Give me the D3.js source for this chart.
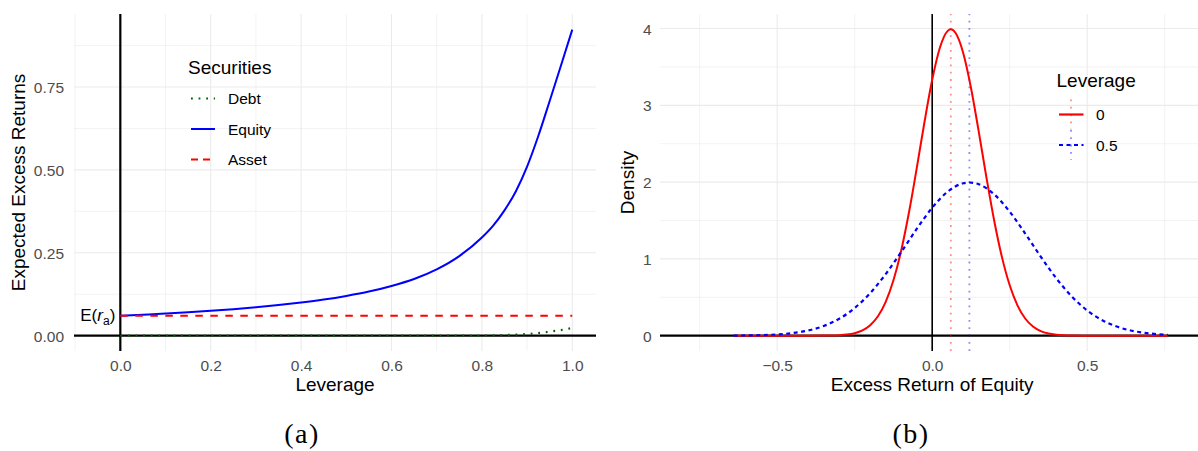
<!DOCTYPE html>
<html>
<head>
<meta charset="utf-8">
<script src="https://cdn.jsdelivr.net/npm/d3@7"></script>
<style>
  html, body { margin: 0; padding: 0; background: #fff; }
  svg { display: block; font-family: "Liberation Sans", Arial, Helvetica, sans-serif; }
</style>
</head>
<body>
<svg id="chart" width="1198" height="451"></svg>
<script>
// ---------- Panel (a): expected excess returns against leverage ----------
const leverage = [0, 0.05, 0.1, 0.15, 0.2, 0.25, 0.3, 0.35, 0.4, 0.45, 0.5, 0.55, 0.6,
                  0.65, 0.7, 0.75, 0.8, 0.825, 0.85, 0.875, 0.9, 0.925, 0.95, 0.975, 1.0];
const debtReturn = [0, 0, 0, 0, 0, 0, 0, 0, 0, 0, 0, 0, 0,
                    0, 0, 0, 0.0005, 0.001, 0.002, 0.003, 0.005, 0.008, 0.012, 0.017, 0.023];
const equityReturn = [0.060, 0.0632, 0.0667, 0.0706, 0.075, 0.080, 0.0857, 0.0923, 0.100, 0.109,
                      0.120, 0.133, 0.150, 0.171, 0.200, 0.240, 0.296, 0.332, 0.378, 0.435,
                      0.510, 0.603, 0.708, 0.815, 0.923];
const assetReturn = [0.06, 0.06, 0.06, 0.06, 0.06, 0.06, 0.06, 0.06, 0.06, 0.06, 0.06, 0.06, 0.06,
                     0.06, 0.06, 0.06, 0.06, 0.06, 0.06, 0.06, 0.06, 0.06, 0.06, 0.06, 0.06];
const securityNames = ["Debt", "Equity", "Asset"];
const xTicksA = [0, 0.2, 0.4, 0.6, 0.8, 1.0];
const xMinorA = [-0.1, 0.1, 0.3, 0.5, 0.7, 0.9];
const yTicksA = [0, 0.25, 0.5, 0.75];
const yMinorA = [0.125, 0.375, 0.625, 0.875];

// ---------- Panel (b): density of equity excess return ----------
const returnsL0 = [-0.64, -0.6, -0.55, -0.5, -0.45, -0.4, -0.35, -0.325, -0.3, -0.275, -0.25, -0.225,
                   -0.2, -0.175, -0.15, -0.125, -0.1, -0.075, -0.05, -0.025, 0, 0.025, 0.05, 0.06,
                   0.075, 0.1, 0.125, 0.15, 0.175, 0.2, 0.225, 0.25, 0.275, 0.3, 0.325, 0.35, 0.375,
                   0.4, 0.425, 0.45, 0.5, 0.55, 0.6, 0.65, 0.7, 0.76];
const densityL0 = [0, 0, 0, 0, 0, 0.0001, 0.0009, 0.0024, 0.0061, 0.0146, 0.0327, 0.0687,
                   0.1358, 0.2522, 0.4400, 0.7209, 1.1092, 1.6038, 2.1785, 2.7798, 3.3322, 3.7524, 3.9695, 3.9894,
                   3.9448, 3.6827, 3.2298, 2.6609, 2.0594, 1.4973, 1.0229, 0.6562, 0.3955, 0.2239, 0.1191, 0.0595, 0.0279,
                   0.0123, 0.0051, 0.0020, 0.0003, 0, 0, 0, 0, 0];
const returnsL05 = [-0.64, -0.6, -0.55, -0.5, -0.45, -0.4, -0.35, -0.3, -0.25, -0.2, -0.15, -0.1,
                    -0.05, 0, 0.05, 0.1, 0.12, 0.15, 0.2, 0.25, 0.3, 0.35, 0.4, 0.45, 0.5, 0.55,
                    0.6, 0.65, 0.7, 0.75, 0.76];
const densityL05 = [0.0015, 0.0031, 0.0073, 0.0163, 0.0344, 0.0679, 0.1261, 0.2200, 0.3604, 0.5545, 0.8019, 1.0893,
                    1.3899, 1.6662, 1.8762, 1.9847, 1.9947, 1.9724, 1.8413, 1.6149, 1.3305, 1.0297, 0.7486, 0.5114, 0.3281, 0.1978,
                    0.1120, 0.0596, 0.0298, 0.0140, 0.0119];
const leverageLevels = ["0", "0.5"];
const meanReturns = [0.06, 0.12];
const xTicksB = [-0.5, 0, 0.5];
const xMinorB = [-0.75, -0.25, 0.25, 0.75];
const yTicksB = [0, 1, 2, 3, 4];
const yMinorB = [0.5, 1.5, 2.5, 3.5];

// ---------- shared styling ----------
const GRID = "#EBEBEB";
const TICK_COL = "#4D4D4D";
const RED = "#FF0000", BLUE = "#0000FF", GREEN = "#006400";

const svg = d3.select("#chart");

function gridLines(g, x, y, xMaj, xMin, yMaj, yMin) {
  const [x0, x1] = x.range();
  const [y0, y1] = y.range();
  g.selectAll(null).data(xMin).join("line")
    .attr("x1", d => x(d)).attr("x2", d => x(d)).attr("y1", y0).attr("y2", y1)
    .attr("stroke", GRID).attr("stroke-width", 0.6);
  g.selectAll(null).data(yMin).join("line")
    .attr("y1", d => y(d)).attr("y2", d => y(d)).attr("x1", x0).attr("x2", x1)
    .attr("stroke", GRID).attr("stroke-width", 0.6);
  g.selectAll(null).data(xMaj).join("line")
    .attr("x1", d => x(d)).attr("x2", d => x(d)).attr("y1", y0).attr("y2", y1)
    .attr("stroke", GRID).attr("stroke-width", 1.1);
  g.selectAll(null).data(yMaj).join("line")
    .attr("y1", d => y(d)).attr("y2", d => y(d)).attr("x1", x0).attr("x2", x1)
    .attr("stroke", GRID).attr("stroke-width", 1.1);
}

function axes(g, x, y, xTicks, yTicks, xFmt, yFmt, yLabelGap) {
  const xAxis = d3.axisBottom(x).tickValues(xTicks).tickFormat(xFmt).tickSize(0).tickPadding(0);
  const ax = g.append("g").attr("transform", `translate(0,${y.range()[0] + 20})`).call(xAxis);
  ax.select(".domain").remove();
  ax.selectAll("text").attr("fill", TICK_COL).attr("font-size", 15.5).attr("dy", 0);
  const yAxis = d3.axisLeft(y).tickValues(yTicks).tickFormat(yFmt).tickSize(0).tickPadding(yLabelGap);
  const ay = g.append("g").attr("transform", `translate(${x.range()[0]},0)`).call(yAxis);
  ay.select(".domain").remove();
  ay.selectAll("text").attr("fill", TICK_COL).attr("font-size", 15.5).attr("dy", "0.36em");
  g.selectAll(".tick text").attr("font-family", "'Liberation Sans', Arial, sans-serif");
}

// ================= Panel (a) =================
const xA = d3.scaleLinear().domain([-0.1025, 1.0525]).range([74, 596]);
const yA = d3.scaleLinear().domain([-0.0462, 0.9702]).range([351, 14]);
const gA = svg.append("g");

gridLines(gA, xA, yA, xTicksA, xMinorA, yTicksA, yMinorA);
axes(gA, xA, yA, xTicksA, yTicksA, d3.format(".1f"), d3.format(".2f"), 10);

// reference lines at zero
gA.append("line").attr("x1", xA.range()[0]).attr("x2", xA.range()[1])
  .attr("y1", yA(0)).attr("y2", yA(0)).attr("stroke", "#000").attr("stroke-width", 2.2);
gA.append("line").attr("x1", xA(0)).attr("x2", xA(0))
  .attr("y1", yA.range()[0]).attr("y2", yA.range()[1]).attr("stroke", "#000").attr("stroke-width", 2.2);

const lineA = d3.line().x(d => xA(d[0])).y(d => yA(d[1])).curve(d3.curveMonotoneX);
const seriesA = [
  { name: "Debt", values: debtReturn, color: GREEN, dash: "1.8,5.8", width: 2.2 },
  { name: "Equity", values: equityReturn, color: BLUE, dash: null, width: 2 },
  { name: "Asset", values: assetReturn, color: RED, dash: "7.5,7.5", width: 2 }
];
seriesA.forEach(s => {
  gA.append("path")
    .datum(leverage.map((l, i) => [l, s.values[i]]))
    .attr("d", lineA).attr("fill", "none")
    .attr("stroke", s.color).attr("stroke-width", s.width)
    .attr("stroke-dasharray", s.dash);
});

// E(r_a) annotation
const era = gA.append("text").attr("x", xA(0) - 5).attr("y", yA(assetReturn[0]) + 5.5)
  .attr("text-anchor", "end").attr("font-size", 17).attr("fill", "#000");
era.append("tspan").text("E(");
era.append("tspan").attr("font-style", "italic").text("r");
era.append("tspan").attr("font-size", 12).attr("dy", 4).text("a");
era.append("tspan").attr("dy", -4).text(")");

// axis titles
gA.append("text").attr("x", (xA.range()[0] + xA.range()[1]) / 2).attr("y", 391)
  .attr("text-anchor", "middle").attr("font-size", 19).text("Leverage");
gA.append("text").attr("transform", `translate(25,${(yA.range()[0] + yA.range()[1]) / 2}) rotate(-90)`)
  .attr("text-anchor", "middle").attr("font-size", 19).text("Expected Excess Returns");

// legend
const legA = gA.append("g");
legA.append("text").attr("x", 188).attr("y", 73.5).attr("font-size", 19).text("Securities");
seriesA.forEach((s, i) => {
  const yy = 98.5 + i * 30.5;
  legA.append("line").attr("x1", 191).attr("x2", 215).attr("y1", yy).attr("y2", yy)
    .attr("stroke", s.color).attr("stroke-width", s.width)
    .attr("stroke-dasharray", s.dash ? (s.name === "Debt" ? "1.8,5.8" : "7,5") : null);
  legA.append("text").attr("x", 228).attr("y", yy).attr("dy", "0.36em")
    .attr("font-size", 15.5).text(s.name);
});

// ================= Panel (b) =================
const xB = d3.scaleLinear().domain([-0.878, 0.878]).range([660, 1204.4]);
const yB = d3.scaleLinear().domain([-0.1995, 4.1895]).range([351, 14]);
const gB = svg.append("g");

gridLines(gB, xB, yB, xTicksB, xMinorB, yTicksB, yMinorB);
axes(gB, xB, yB, xTicksB, yTicksB, d => d === 0 ? "0.0" : d3.format(".1f")(d).replace("-", "\u2212"), d3.format("d"), 8.5);

gB.append("line").attr("x1", xB.range()[0]).attr("x2", xB.range()[1])
  .attr("y1", yB(0)).attr("y2", yB(0)).attr("stroke", "#000").attr("stroke-width", 2.2);
gB.append("line").attr("x1", xB(0)).attr("x2", xB(0))
  .attr("y1", yB.range()[0]).attr("y2", yB.range()[1]).attr("stroke", "#000").attr("stroke-width", 1.6);

const colorsB = [RED, BLUE];
// mean markers
meanReturns.forEach((m, i) => {
  gB.append("line").attr("x1", xB(m)).attr("x2", xB(m))
    .attr("y1", yB.range()[0]).attr("y2", yB.range()[1])
    .attr("stroke", colorsB[i]).attr("stroke-opacity", 0.45)
    .attr("stroke-width", 1.8).attr("stroke-dasharray", "1.8,5.5");
});

const lineB = d3.line().x(d => xB(d[0])).y(d => yB(d[1])).curve(d3.curveMonotoneX);
gB.append("path").datum(returnsL0.map((r, i) => [r, densityL0[i]]))
  .attr("d", lineB).attr("fill", "none").attr("stroke", RED).attr("stroke-width", 2);
gB.append("path").datum(returnsL05.map((r, i) => [r, densityL05[i]]))
  .attr("d", lineB).attr("fill", "none").attr("stroke", BLUE).attr("stroke-width", 2.2)
  .attr("stroke-dasharray", "4,3.5");

gB.append("text").attr("x", (xB.range()[0] + xB.range()[1]) / 2).attr("y", 391)
  .attr("text-anchor", "middle").attr("font-size", 19).text("Excess Return of Equity");
gB.append("text").attr("transform", `translate(634,${(yB.range()[0] + yB.range()[1]) / 2}) rotate(-90)`)
  .attr("text-anchor", "middle").attr("font-size", 19).text("Density");

// legend
const legB = gB.append("g");
legB.append("text").attr("x", 1056.5).attr("y", 87).attr("font-size", 19).text("Leverage");
leverageLevels.forEach((lv, i) => {
  const yy = 114.5 + i * 30.5;
  legB.append("line").attr("x1", 1071).attr("x2", 1071).attr("y1", yy - 15).attr("y2", yy + 15)
    .attr("stroke", colorsB[i]).attr("stroke-opacity", 0.45)
    .attr("stroke-width", 1.8).attr("stroke-dasharray", "1.8,5.5");
  legB.append("line").attr("x1", 1059).attr("x2", 1083.5).attr("y1", yy).attr("y2", yy)
    .attr("stroke", colorsB[i]).attr("stroke-width", 2.2)
    .attr("stroke-dasharray", i === 1 ? "4,3.5" : null);
  legB.append("text").attr("x", 1096).attr("y", yy).attr("dy", "0.36em")
    .attr("font-size", 15.5).text(lv);
});

// ---------- sub-figure captions ----------
svg.append("text").attr("x", 302).attr("y", 443).attr("text-anchor", "middle")
  .attr("font-family", "'Liberation Serif', 'DejaVu Serif', serif").attr("font-size", 28)
  .attr("letter-spacing", 1.5).text("(a)");
svg.append("text").attr("x", 911).attr("y", 443).attr("text-anchor", "middle")
  .attr("font-family", "'Liberation Serif', 'DejaVu Serif', serif").attr("font-size", 28)
  .attr("letter-spacing", 1.5).text("(b)");
</script>
</body>
</html>
